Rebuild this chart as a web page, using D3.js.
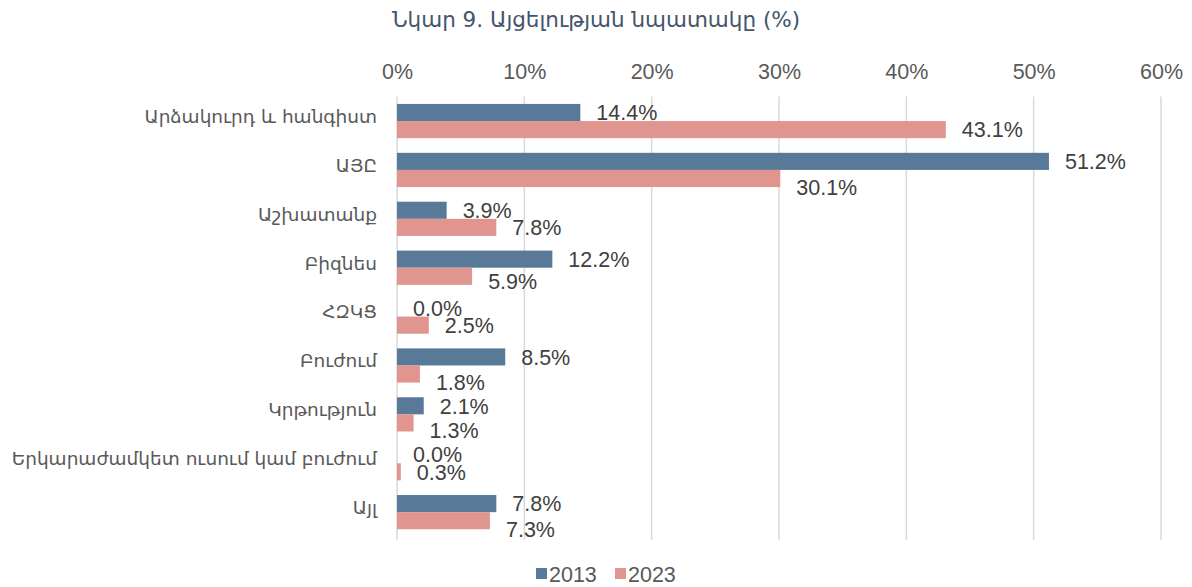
<!DOCTYPE html>
<html><head><meta charset="utf-8">
<script src="https://cdn.jsdelivr.net/npm/d3@7/dist/d3.min.js"></script>
<style>body{margin:0;background:#fff}</style>
</head><body>
<svg id="c" width="1192" height="587"></svg>
<script>
const categories = ["Արձակուրդ և հանգիստ","ԱՅԸ","Աշխատանք","Բիզնես","ՀԶԿՑ","Բուժում","Կրթություն","Երկարաժամկետ ուսում կամ բուժում","Այլ"];
const values2013 = [14.4,51.2,3.9,12.2,0.0,8.5,2.1,0.0,7.8];
const values2023 = [43.1,30.1,7.8,5.9,2.5,1.8,1.3,0.3,7.3];
const seriesNames = ["2013","2023"];
const tickValues = [0,10,20,30,40,50,60];
const title = "Նկար 9. Այցելության նպատակը (%)";

// styling / layout (not data)
const colors = ["#587a98","#e0958e"];
const labelNudge2023 = [0,9,0,5,0,8,7,0,9];

(function(){
const svg = d3.select("#c");
const pL = 397, pR = 1161, pT = 96.6, pB = 536.6;
const x = d3.scaleLinear().domain([0,60]).range([pL,pR]);
const y = d3.scaleBand().domain(categories).range([pT,pB]).paddingInner(0.3).paddingOuter(0.15);
const ySub = d3.scaleBand().domain(seriesNames).range([0,y.bandwidth()]);
const numFont = "Liberation Sans, Arial, sans-serif";
const armFont = "DejaVu Sans, Noto Sans, sans-serif";

svg.append("text").attr("x",596).attr("y",27).attr("text-anchor","middle")
  .attr("font-family",armFont).attr("font-size",21.5).attr("fill","#44546a").text(title);

svg.append("g").selectAll("line").data(tickValues).join("line")
  .attr("x1",d=>x(d)).attr("x2",d=>x(d)).attr("y1",pT).attr("y2",540)
  .attr("stroke","#d9d9d9").attr("stroke-width",1.5);

const ax = svg.append("g").attr("transform",`translate(0,78.5)`)
  .call(d3.axisTop(x).tickValues(tickValues).tickFormat(d=>d+"%").tickSize(0).tickPadding(0));
ax.select(".domain").remove();
ax.selectAll("text").attr("font-family",numFont).attr("font-size",21.5).attr("fill","#595959");

const yax = svg.append("g").attr("transform",`translate(${pL-20},0)`)
  .call(d3.axisLeft(y).tickSize(0).tickPadding(0));
yax.select(".domain").remove();
yax.selectAll("text").attr("font-family",armFont).attr("font-size",18.5).attr("fill","#595959").attr("dy","0.1em");

const data = categories.map((c,i)=>({c, i, v:[values2013[i],values2023[i]]}));
const g = svg.append("g");
seriesNames.forEach((s,si)=>{
  g.selectAll("rect.s"+si).data(data).join("rect").attr("class","s"+si)
    .attr("x",x(0)).attr("y",d=>y(d.c)+ySub(s))
    .attr("width",d=>x(d.v[si])-x(0)).attr("height",ySub.bandwidth())
    .attr("fill",colors[si]);
  g.selectAll("text.s"+si).data(data).join("text").attr("class","s"+si)
    .attr("x",d=>x(d.v[si])+16)
    .attr("y",d=>y(d.c)+ySub(s)+ySub.bandwidth()/2+(si===1?labelNudge2023[d.i]:0))
    .attr("dy","0.36em")
    .attr("font-family",numFont).attr("font-size",21.5).attr("fill","#404040")
    .text(d=>d.v[si].toFixed(1)+"%");
});

const leg = svg.append("g");
const legX = [536,615];
seriesNames.forEach((s,i)=>{
  leg.append("rect").attr("x",legX[i]).attr("y",568).attr("width",11).attr("height",11).attr("fill",colors[i]);
  leg.append("text").attr("x",legX[i]+13).attr("y",582)
    .attr("font-family",numFont).attr("font-size",21.5).attr("fill","#595959").text(s);
});
})();
</script>
</body></html>
